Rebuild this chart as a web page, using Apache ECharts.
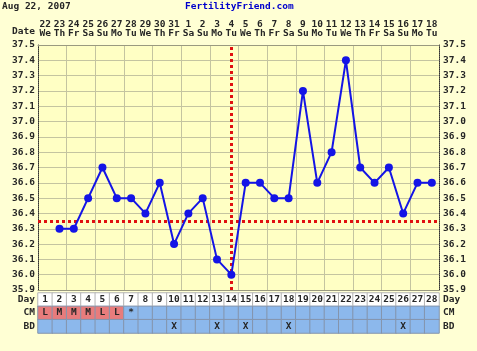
<!DOCTYPE html>
<html>
<head>
<meta charset="utf-8">
<script src="https://cdn.jsdelivr.net/npm/echarts@6/dist/echarts.min.js"></script>
<style>
  html, body { margin: 0; padding: 0; background: #ffffd4; }
  #chart { width: 477px; height: 351px; }
</style>
</head>
<body>
<div id="chart"></div>
<script>
// cycle days and calendar labels
var days = ['1','2','3','4','5','6','7','8','9','10','11','12','13','14','15','16','17','18','19','20','21','22','23','24','25','26','27','28'];
var dates = ['22','23','24','25','26','27','28','29','30','31','1','2','3','4','5','6','7','8','9','10','11','12','13','14','15','16','17','18'];
var weekdays = ['We','Th','Fr','Sa','Su','Mo','Tu','We','Th','Fr','Sa','Su','Mo','Tu','We','Th','Fr','Sa','Su','Mo','Tu','We','Th','Fr','Sa','Su','Mo','Tu'];
// temperatures (day 1 not recorded)
var temps = [null, 36.3, 36.3, 36.5, 36.7, 36.5, 36.5, 36.4, 36.6, 36.2, 36.4, 36.5, 36.1, 36.0, 36.6, 36.6, 36.5, 36.5, 37.2, 36.6, 36.8, 37.4, 36.7, 36.6, 36.7, 36.4, 36.6, 36.6];
var coverline = 36.35;
var ovulationDay = '14';
var cm = ['L','M','M','M','L','L','*','','','','','','','','','','','','','','','','','','','','',''];
var bdDays = [10, 13, 15, 18, 26];
var rows = ['BD', 'CM', 'Day'];

var font = 'DejaVu Sans Mono';
var txt = '#262626';

var cells = [];
days.forEach(function (d, i) {
  cells.push({ name: d, value: [i, 2, 1], itemStyle: { color: '#ffffff', borderColor: '#b4b4b4' } });
  cells.push({ name: cm[i], value: [i, 1, 1], itemStyle: { color: (cm[i] && cm[i] !== '*') ? '#e87c7c' : '#8cb8ec' } });
  cells.push({ name: bdDays.indexOf(i + 1) >= 0 ? 'X' : '', value: [i, 0, 1], itemStyle: { color: '#8cb8ec' } });
});

var chart = echarts.init(document.getElementById('chart'));
chart.setOption({
  backgroundColor: '#ffffd4',
  animation: false,
  graphic: [
    { type: 'text', left: 2, top: 2, style: { text: 'Aug 22, 2007', font: 'bold 9.5px ' + font, fill: txt } },
    { type: 'text', left: 185, top: 2, style: { text: 'FertilityFriend.com', font: 'bold 9.5px ' + font, fill: '#0000cc' } },
    { type: 'text', left: 12, top: 27, style: { text: 'Date', font: 'bold 9.5px ' + font, fill: txt } }
  ],
  grid: [
    { left: 38, right: 38, top: 45, height: 245, show: true, backgroundColor: '#ffffc4', borderWidth: 0 },
    { left: 38, right: 38, top: 293, height: 40 }
  ],
  xAxis: [
    {
      type: 'category', gridIndex: 0, data: days, position: 'bottom',
      axisLabel: { show: false }, axisTick: { show: false },
      axisLine: { lineStyle: { color: '#9a9a80' } },
      splitLine: { show: true, lineStyle: { color: '#c4c4a0', width: 1 } }
    },
    {
      type: 'category', gridIndex: 0, data: dates, position: 'top',
      axisTick: { show: false },
      axisLine: { lineStyle: { color: '#9a9a80' } },
      axisLabel: {
        interval: 0, margin: 7, lineHeight: 9, fontSize: 9.5, fontWeight: 'bold', fontFamily: font, color: txt,
        formatter: function (v, i) { return v + '\n' + weekdays[i]; }
      }
    },
    {
      type: 'category', gridIndex: 1, data: days,
      axisLabel: { show: false }, axisTick: { show: false }, axisLine: { show: false }
    }
  ],
  yAxis: [
    {
      type: 'value', gridIndex: 0, min: 35.9, max: 37.5, interval: 0.1, position: 'left',
      axisLine: { show: true, lineStyle: { color: '#333', type: 'dotted' } },
      axisTick: { show: false },
      axisLabel: { margin: 3, fontSize: 9.5, fontWeight: 'bold', fontFamily: font, color: txt, formatter: function (v) { return v.toFixed(1); } },
      splitLine: { lineStyle: { color: '#c4c4a0' } }
    },
    {
      type: 'value', gridIndex: 0, min: 35.9, max: 37.5, interval: 0.1, position: 'right',
      axisLine: { show: true, lineStyle: { color: '#333', type: 'dotted' } },
      axisTick: { show: false },
      axisLabel: { margin: 4, fontSize: 9.5, fontWeight: 'bold', fontFamily: font, color: txt, formatter: function (v) { return v.toFixed(1); } },
      splitLine: { show: false }
    },
    {
      type: 'category', gridIndex: 1, data: rows, position: 'left',
      axisLine: { show: false }, axisTick: { show: false },
      axisLabel: { interval: 0, margin: 3, fontSize: 9.5, fontWeight: 'bold', fontFamily: font, color: txt }
    },
    {
      type: 'category', gridIndex: 1, data: rows, position: 'right',
      axisLine: { show: false }, axisTick: { show: false },
      axisLabel: { interval: 0, margin: 4, fontSize: 9.5, fontWeight: 'bold', fontFamily: font, color: txt }
    }
  ],
  series: [
    {
      type: 'line', xAxisIndex: 0, yAxisIndex: 0, data: temps,
      symbol: 'circle', symbolSize: 8, z: 5,
      lineStyle: { color: '#1414e6', width: 2 },
      itemStyle: { color: '#1414e6' },
      markLine: {
        silent: true, symbol: 'none', label: { show: false }, z: 4,
        lineStyle: { color: '#e01010', width: 3, type: [3, 3] },
        data: [{ yAxis: coverline }, { xAxis: ovulationDay }]
      }
    },
    {
      type: 'heatmap', xAxisIndex: 2, yAxisIndex: 2, data: cells,
      itemStyle: { borderColor: '#8494ac', borderWidth: 1 },
      label: {
        show: true, fontSize: 9.5, fontWeight: 'bold', fontFamily: font,
        formatter: function (p) { return p.name; },
        color: txt
      },
      emphasis: { disabled: true }
    }
  ]
});
</script>
</body>
</html>
